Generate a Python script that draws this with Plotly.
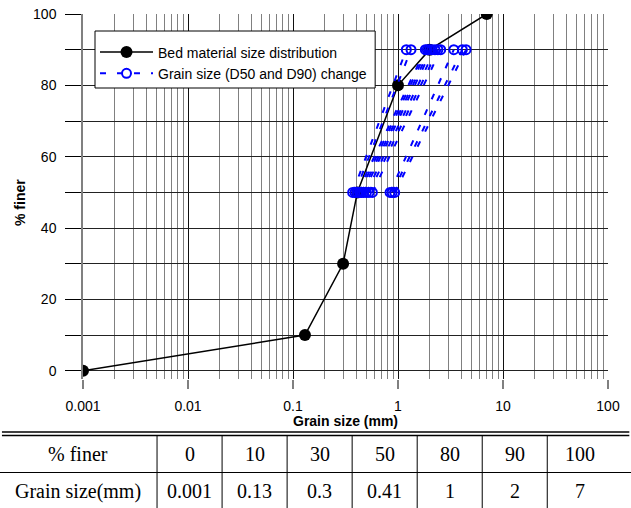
import plotly.graph_objects as go

# ---- data ----
finer_pct = [0, 10, 30, 50, 80, 90, 100]
grain_size = [0.001, 0.13, 0.3, 0.41, 1, 2, 7]

d50_values = [0.37, 0.39, 0.41, 0.43, 0.45, 0.47, 0.50, 0.53, 0.57, 0.84, 0.88, 0.93]
d90_values = [1.20, 1.33, 1.82, 1.90, 2.00, 2.10, 2.25, 2.40, 2.55, 3.40, 4.10, 4.45]

x_major = [0.001, 0.01, 0.1, 1, 10, 100]
x_major_text = ["0.001", "0.01", "0.1", "1", "10", "100"]
y_ticks = list(range(0, 101, 10))
y_tick_text = [str(v) if v % 20 == 0 else "" for v in y_ticks]

table_row_labels = ["% finer", "Grain size(mm)"]
table_row1 = ["0", "10", "30", "50", "80", "90", "100"]
table_row2 = ["0.001", "0.13", "0.3", "0.41", "1", "2", "7"]

# ---- layout geometry (pixels) ----
W, H = 631, 508
L, R, T, B = 83, 607.7, 14, 379
pw, ph = R - L, B - T

def px(x):
    return (x - L) / pw

def py(y):
    return (B - y) / ph

minor_vals = []
for dec in [0.001, 0.01, 0.1, 1, 10]:
    for k in range(2, 10):
        minor_vals.append(dec * k)

# D50/D90 segments
seg_x, seg_y = [], []
for a, b in zip(d50_values, d90_values):
    seg_x += [a, b, None]
    seg_y += [50, 90, None]

fig = go.Figure()
fig.add_trace(go.Scatter(
    x=grain_size, y=finer_pct, mode="lines+markers",
    name="Bed material size distribution",
    line=dict(color="black", width=1.5),
    marker=dict(color="black", size=12),
))
fig.add_trace(go.Scatter(
    x=seg_x, y=seg_y, mode="lines+markers",
    name="Grain size (D50 and D90) change",
    line=dict(color="#0000ff", width=2, dash="6px,11px"),
    marker=dict(symbol="circle-open", color="#0000ff", size=9, line=dict(width=2)),
    connectgaps=False,
))

font_sans = "Liberation Sans, Arial, sans-serif"
font_serif = "Liberation Serif, Times New Roman, serif"

fig.update_layout(
    width=W, height=H,
    margin=dict(l=L, r=W - R, t=T, b=H - B, autoexpand=False),
    paper_bgcolor="white", plot_bgcolor="white",
    font=dict(family=font_sans, size=14, color="black"),
    showlegend=True,
    legend=dict(
        x=px(95), y=py(36.5), xanchor="left", yanchor="top",
        bgcolor="rgba(0,0,0,0)", borderwidth=0,
        font=dict(family=font_sans, size=14, color="black"),
        itemwidth=53, tracegroupgap=0,
    ),
    xaxis=dict(
        type="log", range=[-3, 2], automargin=False,
        tickvals=x_major, ticktext=x_major_text,
        ticks="outside", ticklen=9, tickcolor="#808080", tickwidth=1.5,
        ticklabelstandoff=5,
        showgrid=True, gridcolor="#111111", gridwidth=1,
        minor=dict(tickvals=minor_vals, showgrid=True, gridcolor="#808080",
                   gridwidth=1, ticks=""),
        showline=False, zeroline=False,
        tickfont=dict(family=font_sans, size=14),
    ),
    yaxis=dict(
        range=[-2.3, 100], automargin=False,
        tickvals=y_ticks, ticktext=y_tick_text,
        ticks="outside", ticklen=16, tickcolor="black", tickwidth=1,
        ticklabelstandoff=6,
        showgrid=True, gridcolor="#222222", gridwidth=1,
        showline=True, linecolor="#808080", linewidth=1.5,
        zeroline=False,
        tickfont=dict(family=font_sans, size=14),
    ),
)

def ann(text, x, y, font, angle=0):
    return dict(text=text, x=px(x), y=py(y), xref="paper", yref="paper",
                xanchor="center", yanchor="middle", showarrow=False,
                textangle=angle, font=font)

annotations = [
    ann("<b>Grain size (mm)</b>", 345, 421, dict(family=font_sans, size=14)),
    ann("<b>% finer</b>", 20, 202, dict(family=font_sans, size=14), angle=-90),
]

# table geometry
col_edges = [157, 222, 287, 352, 417, 482, 547, 612]
row1_y, row2_y = 454, 491
tfont = dict(family=font_serif, size=20, color="black")
for lbl, yy in zip(table_row_labels, [row1_y, row2_y]):
    annotations.append(ann(lbl, 78, yy, tfont))
for i in range(len(table_row1)):
    cx = (col_edges[i] + col_edges[i + 1]) / 2
    annotations.append(ann(table_row1[i], cx, row1_y, tfont))
    annotations.append(ann(table_row2[i], cx, row2_y, tfont))

shapes = [
    # legend frame
    dict(type="rect", xref="paper", yref="paper", x0=px(95), x1=px(375), y0=py(31), y1=py(88),
         fillcolor="white", line=dict(color="black", width=1), layer="above"),
    # table lines
    dict(type="line", xref="paper", yref="paper", x0=px(2), x1=px(629), y0=py(432), y1=py(432),
         line=dict(color="black", width=1.5)),
    dict(type="line", xref="paper", yref="paper", x0=px(2), x1=px(629), y0=py(435.5), y1=py(435.5),
         line=dict(color="black", width=1.5)),
    dict(type="line", xref="paper", yref="paper", x0=px(0), x1=px(631), y0=py(472.5), y1=py(472.5),
         line=dict(color="black", width=1)),
]
for xe in col_edges[:-1]:
    shapes.append(dict(type="line", xref="paper", yref="paper", x0=px(xe), x1=px(xe),
                       y0=py(436), y1=py(508), line=dict(color="black", width=1)))

fig.update_layout(annotations=annotations, shapes=shapes)

fig.write_html("out.html")
